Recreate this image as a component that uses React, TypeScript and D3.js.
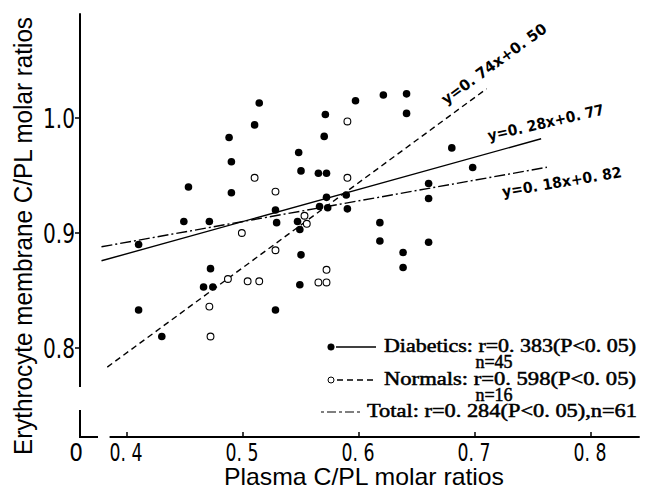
import React from "react";
import * as d3 from "d3";

// Diabetics (filled) and normals (open), [plasma C/PL, membrane C/PL]
const diabetics: [number, number][] = [
  [0.514, 1.013], [0.51, 0.994], [0.488, 0.983], [0.49, 0.962], [0.453, 0.94],
  [0.49, 0.935], [0.528, 0.92], [0.529, 0.909], [0.449, 0.91], [0.471, 0.91],
  [0.41, 0.89], [0.55, 0.881], [0.547, 0.91], [0.549, 0.903], [0.548, 0.97],
  [0.55, 0.954], [0.571, 1.003], [0.57, 0.984], [0.597, 1.015], [0.565, 0.952],
  [0.572, 0.952], [0.572, 0.931], [0.589, 0.933], [0.566, 0.923], [0.573, 0.922],
  [0.59, 0.921], [0.472, 0.869], [0.466, 0.853], [0.474, 0.853], [0.549, 0.855],
  [0.41, 0.833], [0.528, 0.833], [0.43, 0.81], [0.621, 1.02], [0.641, 1.021],
  [0.641, 1.004], [0.68, 0.974], [0.698, 0.957], [0.66, 0.943], [0.66, 0.93],
  [0.618, 0.909], [0.618, 0.893], [0.66, 0.892], [0.638, 0.883], [0.638, 0.87],
];

const normals: [number, number][] = [
  [0.51, 0.948], [0.528, 0.936], [0.499, 0.9], [0.528, 0.885], [0.553, 0.915],
  [0.555, 0.908], [0.59, 0.997], [0.59, 0.948], [0.487, 0.86], [0.504, 0.858],
  [0.514, 0.858], [0.572, 0.868], [0.565, 0.857], [0.572, 0.857], [0.471, 0.836],
  [0.472, 0.81],
];

// regression lines y = a*x + b, drawn over [from, to]
const fitNames = ["diabetics", "normals", "total"];
const fitSlopes = [0.28, 0.74, 0.18];
const fitIntercepts = [0.77, 0.5, 0.82];
const fitFrom = [0.378, 0.383, 0.378];
const fitTo = [0.757, 0.71, 0.762];
const fitLabels = ["y=0.28x+0.77", "y=0.74x+0.50", "y=0.18x+0.82"];

const xTicks = [0.4, 0.5, 0.6, 0.7, 0.8];
const xTickLabels = ["0. 4", "0. 5", "0. 6", "0. 7", "0. 8"];
const yTicks = [0.8, 0.9, 1.0];
const yTickLabels = ["0.8", "0.9", "1.0"];

const legendMain = [
  "Diabetics: r=0. 383(P<0. 05)",
  "Normals: r=0. 598(P<0. 05)",
  "Total: r=0. 284(P<0. 05),n=61",
];
const legendN = ["n=45", "n=16"];

const dashFor: Record<string, string | undefined> = {
  diabetics: undefined,
  normals: "6,4",
  total: "11,3,2,3",
};

const narrow = "'Liberation Sans Narrow', 'DejaVu Sans Condensed', sans-serif";
const sans = "'Liberation Sans', Arial, sans-serif";
const serif = "'Liberation Serif', 'Times New Roman', serif";
const eqFont = "'DejaVu Sans', sans-serif";

export default function App() {
  const W = 652;
  const H = 490;
  const x = d3.scaleLinear().domain([0.4, 0.8]).range([127, 591]);
  const y = d3.scaleLinear().domain([0.8, 1.0]).range([348, 118]);

  const axisX = 80;
  const baseY = 437;

  const line = d3
    .line<number>()
    .x((d) => x(d[0]))
    .y((d) => y(d[1]));

  // label placement along each fit: [x, y, angle, length]
  const eqPlace = [
    [489, 141, -13, 119],
    [446, 105, -36, 126],
    [503, 197, -9.5, 121],
  ];

  return (
    <svg
      width={W}
      height={H}
      style={{ position: "absolute", left: 0, top: 0, background: "#fff" }}
    >
      {/* y axis, broken near the origin */}
      <line x1={axisX} x2={axisX} y1={y(1.091)} y2={y(0.766)} stroke="#000" strokeWidth={2} />
      <line x1={axisX} x2={axisX} y1={410} y2={baseY} stroke="#000" strokeWidth={2} />
      <line x1={axisX - 1} x2={98} y1={baseY} y2={baseY} stroke="#000" strokeWidth={2} />
      {yTicks.map((t, i) => (
        <g key={t}>
          <line x1={axisX - 5} x2={axisX} y1={y(t)} y2={y(t)} stroke="#000" strokeWidth={1.5} />
          <text
            x={axisX - 5}
            y={y(t)}
            dy="0.37em"
            textAnchor="end"
            fontFamily={narrow}
            fontSize={27}
            textLength={32}
            lengthAdjust="spacingAndGlyphs"
          >
            {yTickLabels[i]}
          </text>
        </g>
      ))}

      {/* x axis */}
      <line x1={x(0.385)} x2={x(0.842)} y1={baseY} y2={baseY} stroke="#000" strokeWidth={2} />
      {xTicks.map((t, i) => (
        <g key={t}>
          <line x1={x(t)} x2={x(t)} y1={baseY - 5} y2={baseY} stroke="#000" strokeWidth={1.5} />
          <text
            x={x(t) - 1}
            y={461}
            textAnchor="middle"
            fontFamily={narrow}
            fontSize={24}
            textLength={33}
            lengthAdjust="spacingAndGlyphs"
          >
            {xTickLabels[i]}
          </text>
        </g>
      ))}
      <text x={76} y={461} textAnchor="middle" fontFamily={narrow} fontSize={24}>
        0
      </text>

      {/* axis titles */}
      <text
        transform="translate(32,236) rotate(-90)"
        textAnchor="middle"
        fontFamily={sans}
        fontSize={25}
        textLength={438}
        lengthAdjust="spacingAndGlyphs"
      >
        Erythrocyte membrane C/PL molar ratios
      </text>
      <text
        x={364}
        y={485}
        textAnchor="middle"
        fontFamily={sans}
        fontSize={24}
        textLength={280}
        lengthAdjust="spacingAndGlyphs"
      >
        Plasma C/PL molar ratios
      </text>

      {/* regression lines */}
      {fitNames.map((name, i) => {
        const pts: [number, number][] = [fitFrom[i], fitTo[i]].map((v) => [
          v,
          fitSlopes[i] * v + fitIntercepts[i],
        ]);
        return (
          <path
            key={name}
            d={line(pts as any) || ""}
            fill="none"
            stroke="#000"
            strokeWidth={1.4}
            strokeDasharray={dashFor[name]}
          />
        );
      })}

      {/* points */}
      {diabetics.map((d, i) => (
        <circle key={"d" + i} cx={x(d[0])} cy={y(d[1])} r={3.8} fill="#000" />
      ))}
      {normals.map((d, i) => (
        <circle
          key={"n" + i}
          cx={x(d[0])}
          cy={y(d[1])}
          r={3.4}
          fill="#fff"
          stroke="#000"
          strokeWidth={1.1}
        />
      ))}

      {/* equation labels */}
      {fitLabels.map((lab, i) => {
        const [px, py, ang, len] = eqPlace[i];
        return (
          <text
            key={lab}
            transform={`translate(${px},${py}) rotate(${ang})`}
            fontFamily={eqFont}
            fontWeight="bold"
            fontSize={15}
            textLength={len}
            lengthAdjust="spacingAndGlyphs"
          >
            {lab.replace(/0\./g, "0. ")}
          </text>
        );
      })}

      {/* legend */}
      <g fontFamily={serif} fontSize={18} stroke="#000" strokeWidth={0.5}>
        <circle cx={331} cy={347} r={3.3} fill="#000" />
        <line x1={336} x2={376} y1={347} y2={347} strokeWidth={1.4} />
        <text x={384} y={352} textLength={252} lengthAdjust="spacingAndGlyphs">
          {legendMain[0]}
        </text>
        <text x={494} y={368} textAnchor="middle">
          {legendN[0]}
        </text>
        <circle cx={331} cy={380} r={3} fill="#fff" strokeWidth={1} />
        <line x1={337} x2={376} y1={380} y2={380} strokeWidth={1.4} strokeDasharray="6,4" />
        <text x={384} y={385} textLength={252} lengthAdjust="spacingAndGlyphs">
          {legendMain[1]}
        </text>
        <text x={494} y={401} textAnchor="middle">
          {legendN[1]}
        </text>
        <line x1={321} x2={362} y1={412} y2={412} strokeWidth={1.2} strokeDasharray="3,3,9,3" />
        <text x={367} y={417} textLength={270} lengthAdjust="spacingAndGlyphs">
          {legendMain[2]}
        </text>
      </g>
    </svg>
  );
}
